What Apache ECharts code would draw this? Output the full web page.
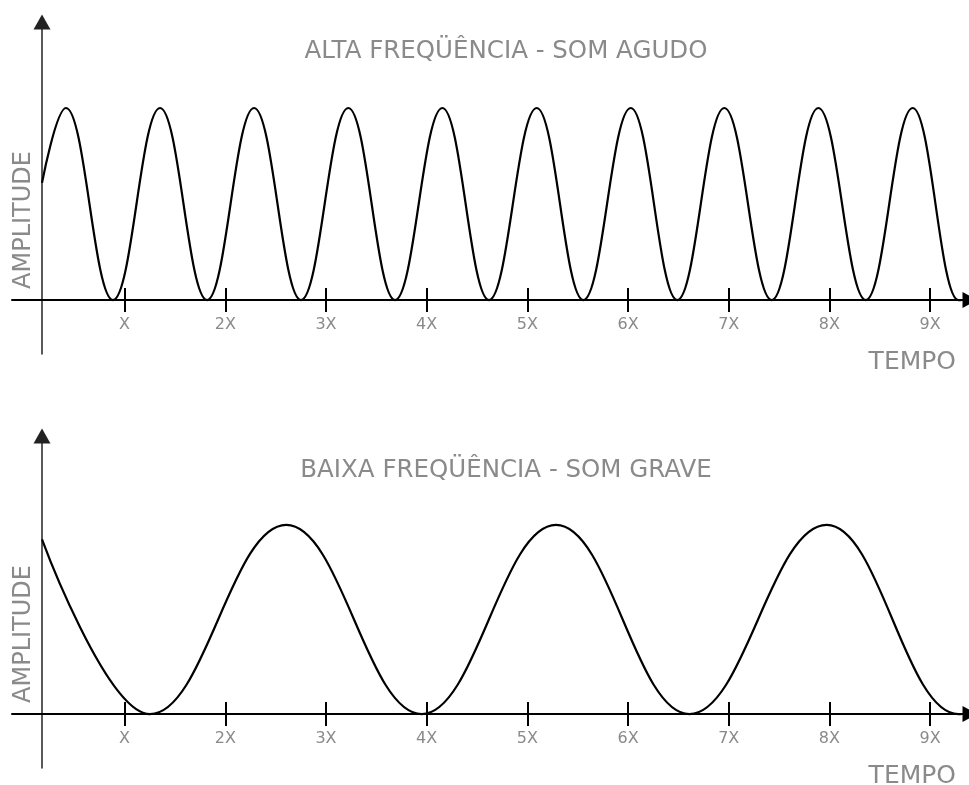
<!DOCTYPE html>
<html>
<head>
<meta charset="utf-8">
<title>Frequência</title>
<script src="https://cdn.jsdelivr.net/npm/echarts@6/dist/echarts.min.js"></script>
<style>
  html, body { margin: 0; padding: 0; background: #fff; }
  #chart { width: 969px; height: 785px; }
</style>
</head>
<body>
<div id="chart"></div>
<script>
// time axis: the vertical axis sits at 0, one tick spacing = 1 unit
const tickPos = [0.82, 1.82, 2.82, 3.82, 4.82, 5.82, 6.82, 7.82, 8.82];
const tickLabels = ['X', '2X', '3X', '4X', '5X', '6X', '7X', '8X', '9X'];

// alta frequência: start point, then peaks / troughs,
// the curve runs into the axis at the end
const agudoTime = [0, 0.238, 0.705, 1.172, 1.639, 2.106, 2.572, 3.042, 3.506, 3.976, 4.439,
  4.913, 5.376, 5.847, 6.309, 6.776, 7.247, 7.710, 8.181, 8.647, 9.100, 9.13];
const agudoAmp = [0.61, 1, 0, 1, 0, 1, 0, 1, 0, 1, 0, 1, 0, 1, 0, 1, 0, 1, 0, 1, 0, 0];

// baixa frequência
const graveTime = [0, 1.073, 2.426, 3.771, 5.105, 6.429, 7.793, 9.100, 9.13];
const graveAmp = [0.91, 0, 0.985, 0, 0.985, 0, 0.985, 0, 0];

const titles = ['ALTA FREQÜÊNCIA - SOM AGUDO', 'BAIXA FREQÜÊNCIA - SOM GRAVE'];

const FONT = '"DejaVu Sans", sans-serif';
const GRAY = '#8a8a8a';

const chart = echarts.init(document.getElementById('chart'));

function tickLabel(v) {
  let best = 0;
  tickPos.forEach((p, i) => {
    if (Math.abs(p - v) < Math.abs(tickPos[best] - v)) best = i;
  });
  return tickLabels[best];
}

const panelTop = [22, 436];
const grids = [];
const xAxes = [];
const yAxes = [];
const series = [];
const texts = [];

panelTop.forEach((top, g) => {
  grids.push({ left: 12, top: top, width: 958, height: 332, outerBoundsMode: 'none' });
  // main time axis (ticks below the line, labels)
  xAxes.push({
    gridIndex: g,
    type: 'value',
    position: 'bottom',
    min: -0.298,
    max: 9.216,
    axisLine: {
      show: true, onZero: true,
      symbol: ['none', 'triangle'], symbolSize: [16, 15],
      lineStyle: { color: '#000', width: 2 }
    },
    axisTick: {
      show: true, inside: false, length: 12, customValues: tickPos,
      lineStyle: { color: '#000', width: 2 }
    },
    axisLabel: {
      show: true, customValues: tickPos, formatter: tickLabel,
      // labels get laid out from the grid's bottom edge, pull them up to the line
      margin: -37, fontSize: 16, fontFamily: FONT, color: GRAY
    },
    splitLine: { show: false }
  });
  // second axis only for the upper half of the ticks
  xAxes.push({
    gridIndex: g,
    type: 'value',
    position: 'bottom',
    min: -0.298,
    max: 9.216,
    axisLine: { show: false, onZero: true, onZeroAxisIndex: g },
    axisTick: {
      show: true, inside: true, length: 12, customValues: tickPos,
      lineStyle: { color: '#000', width: 2 }
    },
    axisLabel: { show: false },
    splitLine: { show: false }
  });
  yAxes.push({
    gridIndex: g,
    type: 'value',
    min: -0.281,
    max: 1.448,
    axisLine: {
      show: true, onZero: true,
      symbol: ['none', 'triangle'], symbolSize: [17, 15],
      lineStyle: { color: '#222', width: 1.5 }
    },
    axisTick: { show: false },
    axisLabel: { show: false },
    splitLine: { show: false }
  });
});

series.push({
  type: 'line', xAxisIndex: 0, yAxisIndex: 0,
  data: agudoTime.map((t, i) => [t, agudoAmp[i]]),
  smooth: 0.4, smoothMonotone: 'x',
  showSymbol: false, symbol: 'none', silent: true,
  lineStyle: { color: '#000', width: 2.2 }
});
series.push({
  type: 'line', xAxisIndex: 2, yAxisIndex: 1,
  data: graveTime.map((t, i) => [t, graveAmp[i]]),
  smooth: 0.4, smoothMonotone: 'x',
  showSymbol: false, symbol: 'none', silent: true,
  lineStyle: { color: '#000', width: 2.2 }
});

function txt(str, x, y, size, align, rot) {
  return {
    type: 'text', x: x, y: y, rotation: rot || 0, silent: true,
    style: {
      text: str, fill: GRAY,
      font: size + 'px ' + FONT,
      align: align, textAlign: align,
      verticalAlign: 'middle', textVerticalAlign: 'middle'
    }
  };
}

texts.push(txt(titles[0], 506, 52, 24.5, 'center'));
texts.push(txt(titles[1], 506, 470.5, 24.5, 'center'));
texts.push(txt('AMPLITUDE', 24, 220, 24, 'center', Math.PI / 2));
texts.push(txt('AMPLITUDE', 24, 634, 24, 'center', Math.PI / 2));
texts.push(txt('TEMPO', 956, 362, 25, 'right'));
texts.push(txt('TEMPO', 956, 776, 25, 'right'));

chart.setOption({
  backgroundColor: '#fff',
  animation: false,
  grid: grids,
  xAxis: xAxes,
  yAxis: yAxes,
  series: series,
  graphic: texts
});
</script>
</body>
</html>
